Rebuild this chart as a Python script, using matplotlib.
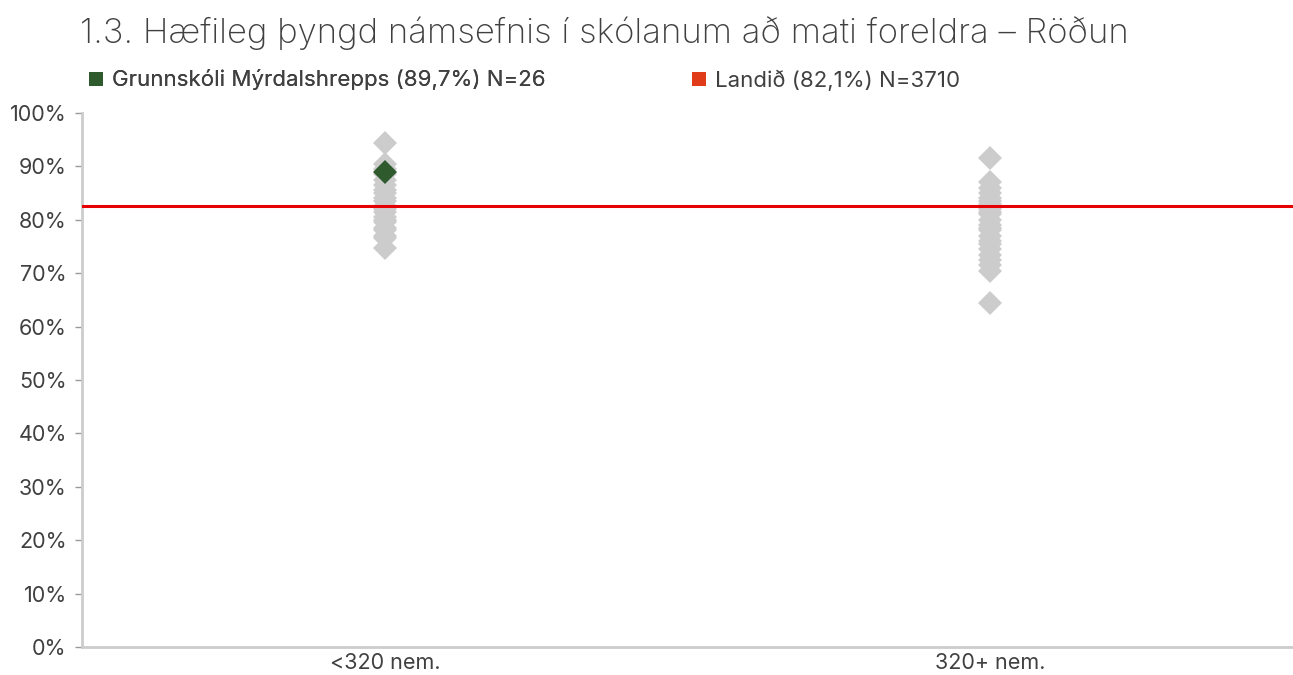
import matplotlib
matplotlib.use("Agg")
import matplotlib.pyplot as plt
from matplotlib.lines import Line2D

plt.rcParams['font.family'] = ['Inter', 'DejaVu Sans']

title = "1.3. Hæfileg þyngd námsefnis í skólanum að mati foreldra – Röðun"
categories = ["<320 nem.", "320+ nem."]
small_schools = [94.3, 90.5, 89.5, 88.5, 87.5, 86.5, 85.5, 85.0, 84.0, 83.5, 82.5,
                 82.0, 81.5, 80.5, 80.0, 79.5, 78.5, 78.0, 77.0, 76.6, 74.7]
large_schools = [91.6, 87.1, 86.0, 85.0, 84.0, 83.5, 83.0, 82.0, 81.5, 81.0, 80.0,
                 79.0, 78.5, 78.0, 77.0, 76.0, 75.5, 74.5, 73.5, 72.5, 71.5, 70.5, 64.4]
school_value = 89.0
national_value = 82.5
school_label = "Grunnskóli Mýrdalshrepps (89,7%) N=26"
national_label = "Landið (82,1%) N=3710"
y_ticks = list(range(0, 101, 10))

gray = "#cccccc"
green = "#2e5a2e"
red_line = "#e60000"
red_legend = "#e03c1a"
text_color = "#404040"

fig = plt.figure(figsize=(12.93, 6.75), dpi=100)
ax = fig.add_axes([82/1293, 1-647/675, 1-82/1293, (647-113)/675])

ms = 12.5
ax.plot([0]*len(small_schools), small_schools, linestyle='none', marker='D',
        markersize=ms, color=gray, markeredgewidth=0, zorder=2)
ax.plot([1]*len(large_schools), large_schools, linestyle='none', marker='D',
        markersize=ms, color=gray, markeredgewidth=0, zorder=2)
ax.axhline(national_value, color=red_line, linewidth=2.2, zorder=3)
ax.plot([0], [school_value], linestyle='none', marker='D', markersize=ms,
        color=green, markeredgewidth=0, zorder=4)

ax.set_xlim(-0.5, 1.5)
ax.set_ylim(0, 100)
ax.set_yticks(y_ticks)
ax.set_yticklabels([f"{t}%" for t in y_ticks])
ax.set_xticks([0, 1])
ax.set_xticklabels(categories)
ax.tick_params(axis='y', length=5, width=1, color="#999999", labelsize=15.5,
               labelcolor=text_color, pad=6)
ax.tick_params(axis='x', length=0, labelsize=15.5, labelcolor=text_color, pad=4)
for s in ['top', 'right']:
    ax.spines[s].set_visible(False)
for s in ['left', 'bottom']:
    ax.spines[s].set_color(gray)
    ax.spines[s].set_linewidth(2)

fig.text(80/1293, 1-33/675, title, fontsize=25, color=text_color,
         ha='left', va='center', fontweight='light')

h1 = Line2D([], [], linestyle='none', marker='s', markersize=10.5, color=green,
            markeredgewidth=0)
h2 = Line2D([], [], linestyle='none', marker='s', markersize=10.5, color=red_legend,
            markeredgewidth=0)
leg1 = fig.legend([h1], [school_label], loc='center left',
                  bbox_to_anchor=(88/1293, 1-80/675), frameon=False,
                  prop={'size': 16},
                  handlelength=0.7, handletextpad=0.4, borderpad=0, borderaxespad=0,
                  labelcolor=text_color)
leg2 = fig.legend([h2], [national_label], loc='center left',
                  bbox_to_anchor=(691/1293, 1-80/675), frameon=False,
                  prop={'size': 16},
                  handlelength=0.7, handletextpad=0.4, borderpad=0, borderaxespad=0,
                  labelcolor=text_color)
fig.add_artist(leg1)

fig.savefig("out.png", dpi=100)
